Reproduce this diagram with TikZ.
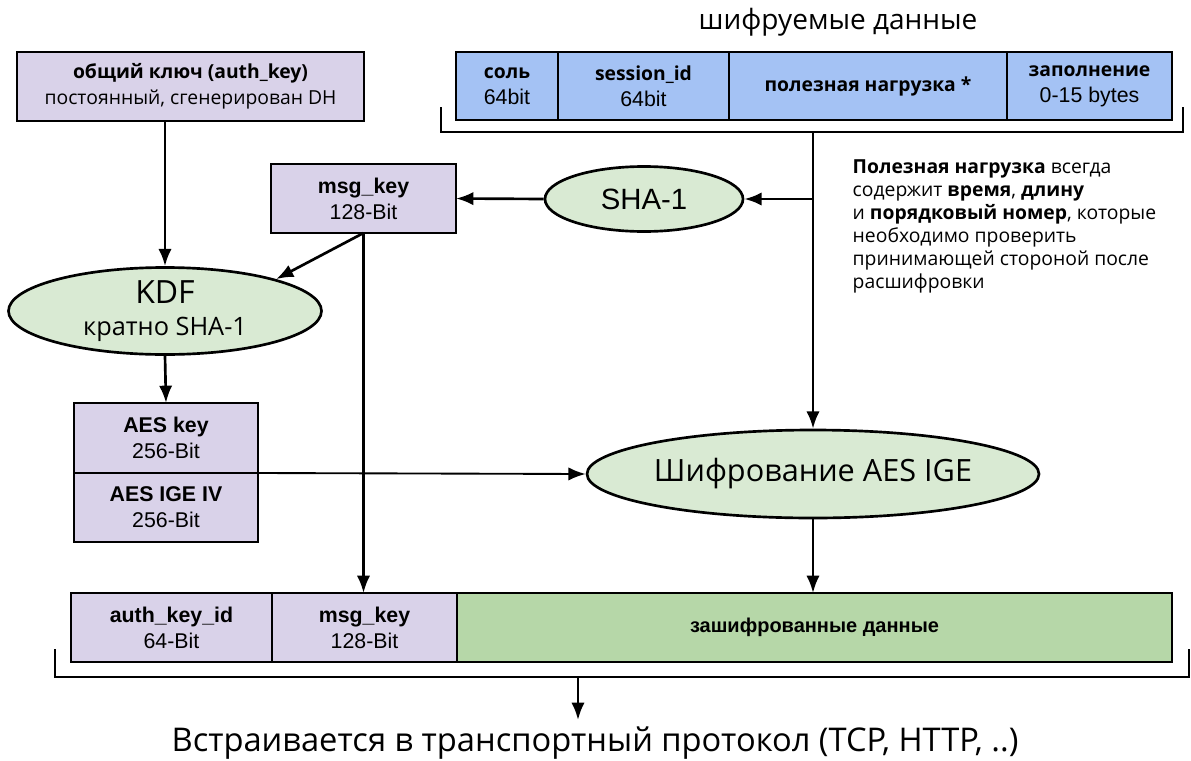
\documentclass[tikz,border=0pt]{standalone}
\usepackage{fontspec}
\setmainfont{Liberation Sans}
\newfontfamily\ubu{Open Sans}
\usetikzlibrary{arrows.meta, positioning, shapes.geometric}
\definecolor{keyviolet}{HTML}{D9D2E9}
\definecolor{plainblue}{HTML}{A4C2F4}
\definecolor{funcgreen}{HTML}{D9EAD3}
\definecolor{cipgreen}{HTML}{B6D7A8}
\newcommand{\pxu}{0.75pt}
\newcommand{\boxcyr}{\ubu\fontsize{14.5}{19.5}\selectfont}

\begin{document}
\begin{tikzpicture}[
        x=\pxu, y=-\pxu,
        box/.style={
            draw,
            rectangle,
            line width=2pt,
            inner sep=0pt,
            outer sep=0pt,
            align=center,
            minimum height=69*\pxu,
            font=\fontsize{16}{19.5}\selectfont,
        },
        key/.style={
            fill=keyviolet,
        },
        plain/.style={
            fill=plainblue,
            minimum height=68*\pxu,
        },
        cipher/.style={
            fill=cipgreen,
        },
        func/.style={
            draw,
            ellipse,
            line width=2pt,
            fill=funcgreen,
            inner sep=0pt,
            align=center,
        },
        flow/.style={
            -{Latex[length=13pt, width=10pt]},
            line width=2pt,
        },
        brace/.style={
            line width=2pt,
        },
    ]
    \useasboundingbox (0,0) rectangle (1191,760);

    % data to be encrypted
    \node[font=\ubu\fontsize{21}{24}\selectfont] (title) at (838,22) {шифруемые данные};
    \node[box, plain, minimum width=102*\pxu] (salt) at (507,86)
        {{\boxcyr\bfseries соль}\\64bit};
    \node[box, plain, minimum width=171*\pxu, right=0pt of salt] (sess)
        {{\boxcyr\bfseries session\_id}\\64bit};
    \node[box, plain, minimum width=278*\pxu, right=0pt of sess] (payload)
        {\boxcyr\bfseries полезная нагрузка *};
    \node[box, plain, minimum width=165*\pxu, right=0pt of payload] (pad)
        {{\boxcyr\bfseries заполнение}\\0-15 bytes};
    \draw[brace] (441,107) -- (441,132) -- (1183,132) -- (1183,107);
    \coordinate (topbr) at (813,132);

    \node[anchor=north west, align=left, font=\ubu\fontsize{14.5}{17.2}\selectfont] (note) at (848,155)
        {\textbf{Полезная нагрузка} всегда\\
         содержит \textbf{время}, \textbf{длину}\\
         и \textbf{порядковый номер}, которые\\
         необходимо проверить\\
         принимающей стороной после\\
         расшифровки};

    % keys and functions
    \node[box, key, minimum width=347*\pxu, font=\boxcyr] (authkey) at (190.5,86.5)
        {\textbf{общий ключ (auth\_key)}\\постоянный, сгенерирован DH};
    \node[box, key, minimum width=185*\pxu] (msgkey) at (363.5,198.5)
        {\textbf{msg\_key}\\128-Bit};
    \node[func, minimum width=198*\pxu, minimum height=65*\pxu, font=\fontsize{22}{26}\selectfont] (sha) at (644,199)
        {SHA-1};
    \node[func, minimum width=313*\pxu, minimum height=87*\pxu, font=\ubu\fontsize{19}{24}\selectfont] (kdf) at (165,311)
        {{\fontsize{24}{27}\selectfont KDF}\\кратно SHA-1};
    \node[box, key, minimum width=184*\pxu, minimum height=70*\pxu] (aeskey) at (166,438)
        {\textbf{AES key}\\256-Bit};
    \node[box, key, minimum width=184*\pxu, below=0pt of aeskey] (aesiv)
        {\textbf{AES IGE IV}\\256-Bit};
    \node[func, minimum width=452*\pxu, minimum height=88*\pxu, font=\ubu\fontsize{23}{27}\selectfont] (enc) at (813,474)
        {Шифрование AES IGE};

    % resulting message
    \node[box, key, minimum width=201*\pxu] (authid) at (171.5,627.5)
        {\textbf{auth\_key\_id}\\64-Bit};
    \node[box, key, minimum width=185*\pxu, right=0pt of authid] (msgkeyout)
        {\textbf{msg\_key}\\128-Bit};
    \node[box, cipher, minimum width=715*\pxu, right=0pt of msgkeyout] (encdata)
        {\fontsize{15}{18}\selectfont\textbf{зашифрованные данные}};
    \draw[brace] (55,649) -- (55,677) -- (1189,677) -- (1189,649);
    \coordinate (botbr) at (578,677);
    \coordinate (botend) at (578,720);
    \node[font=\ubu\fontsize{24.5}{28}\selectfont] (transport) at (595,743)
        {Встраивается в транспортный протокол (TCP, HTTP, ..)};

    \draw[flow] (kdf.north |- authkey.south) -- (kdf.north);
    \draw[flow] (msgkey.south) -- (kdf.16);
    \draw[flow] (sha.west) -- (msgkey.east);
    \draw[flow] (topbr) -- (enc.north);
    \draw[flow] (enc.north |- sha.east) -- (sha.east);
    \draw[flow] (kdf.south) -- (aeskey.north);
    \draw[flow, line width=1.4pt] (aeskey.south east) -- (enc.west);
    \draw[flow] (msgkey.south) -- (msgkey.south |- msgkeyout.north);
    \draw[flow] (enc.south) -- (enc.south |- encdata.north);
    \draw[flow] (botbr) -- (botend);
\end{tikzpicture}
\end{document}
